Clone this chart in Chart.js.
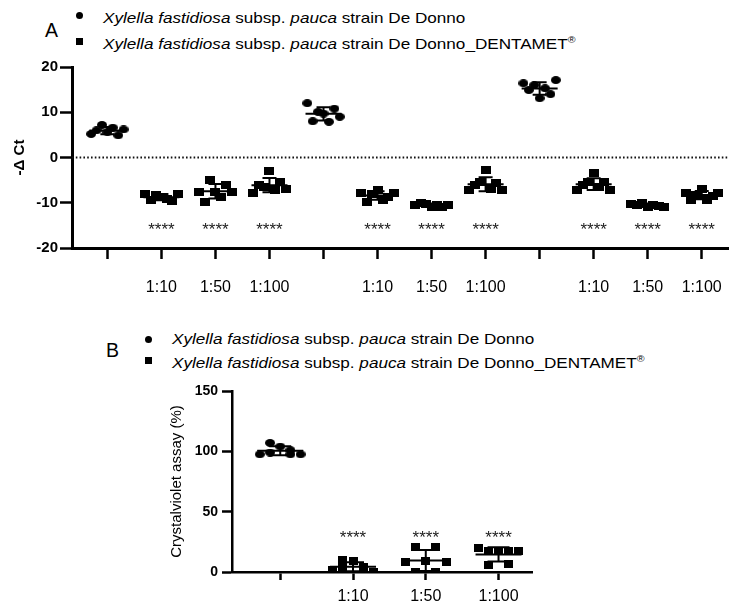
<!DOCTYPE html>
<html>
<head>
<meta charset="utf-8">
<script src="https://cdn.jsdelivr.net/npm/chart.js@4.4.1/dist/chart.umd.min.js"></script>
<style>
  body { margin: 0; width: 741px; height: 606px; background: #fff; position: relative; overflow: hidden;
         font-family: "Liberation Sans", Arial, sans-serif; color: #000; }
  .letter { position: absolute; font-size: 19.5px; line-height: 1; }
  .row { position: absolute; font-size: 14.5px; line-height: 1; white-space: nowrap;
         transform: scaleX(1.18); transform-origin: left center; }
  .row sup { font-size: 9px; vertical-align: 6px; color: #000; font-family: "Liberation Sans", "DejaVu Sans", sans-serif; }
  .dot { position: absolute; width: 7px; height: 7px; border-radius: 50%; background: #000; }
  .sq { position: absolute; width: 7px; height: 7px; background: #000; }
  canvas { position: absolute; left: 0; }
</style>
</head>
<body>
  <div class="letter" style="left:45px; top:20.5px;">A</div>
  <div class="dot" style="left:76px; top:11.5px;"></div>
  <div class="sq" style="left:76px; top:37.5px;"></div>
  <div class="row" style="left:103px; top:10.5px;"><i>Xylella fastidiosa</i> subsp. <i>pauca</i> strain De Donno</div>
  <div class="row" style="left:103px; top:35.5px;"><i>Xylella fastidiosa</i> subsp. <i>pauca</i> strain De Donno_DENTAMET<sup>&#174;&#xFE0E;</sup></div>

  <div class="letter" style="left:106px; top:340.5px;">B</div>
  <div class="dot" style="left:144.5px; top:335.5px;"></div>
  <div class="sq" style="left:144.5px; top:356.5px;"></div>
  <div class="row" style="left:172px; top:332px;"><i>Xylella fastidiosa</i> subsp. <i>pauca</i> strain De Donno</div>
  <div class="row" style="left:172px; top:355px;"><i>Xylella fastidiosa</i> subsp. <i>pauca</i> strain De Donno_DENTAMET<sup>&#174;&#xFE0E;</sup></div>

  <canvas id="chartA" width="741" height="250" style="top:55px"></canvas>
  <canvas id="chartB" width="560" height="236" style="top:370px"></canvas>

<script>
// ---- panel A: -ΔCt, three experiments (untreated, 1:10, 1:50, 1:100) ----
const xLabelsA = ['', '1:10', '1:50', '1:100', '', '1:10', '1:50', '1:100', '', '1:10', '1:50', '1:100'];
const starsA = ['', '****', '****', '****', '', '****', '****', '****', '', '****', '****', '****'];
const markerA = ['circle', 'square', 'square', 'square', 'circle', 'square', 'square', 'square', 'circle', 'square', 'square', 'square'];

const exp1Ctrl = [5.2, 6.0, 7.2, 5.6, 6.6, 4.9, 6.2];
const exp1D10 = [-8.0, -9.5, -8.3, -8.8, -9.2, -9.6, -8.0];
const exp1D50 = [-7.6, -9.8, -5.0, -7.6, -8.7, -6.0, -7.6];
const exp1D100 = [-7.8, -6.0, -6.5, -3.0, -7.2, -5.4, -6.9];
const exp2Ctrl = [12.0, 8.0, 10.1, 9.7, 7.9, 10.8, 9.0];
const exp2D10 = [-7.8, -9.8, -8.0, -7.2, -9.4, -8.7, -7.8];
const exp2D50 = [-10.5, -10.0, -10.2, -11.0, -10.4, -11.0, -10.6];
const exp2D100 = [-7.2, -6.1, -5.4, -2.8, -7.0, -5.6, -7.2];
const exp3Ctrl = [16.4, 14.9, 16.0, 13.1, 15.3, 14.0, 17.1];
const exp3D10 = [-7.2, -6.1, -5.4, -3.5, -6.5, -5.4, -7.2];
const exp3D50 = [-10.2, -10.6, -10.0, -11.0, -10.4, -10.8, -11.0];
const exp3D100 = [-7.8, -9.4, -8.3, -6.9, -9.4, -8.6, -7.8];
const groupsA = [exp1Ctrl, exp1D10, exp1D50, exp1D100, exp2Ctrl, exp2D10, exp2D50, exp2D100,
                 exp3Ctrl, exp3D10, exp3D50, exp3D100];
const yTicksA = [-20, -10, 0, 10, 20];

// ---- panel B: crystal violet assay (%) ----
const xLabelsB = ['', '1:10', '1:50', '1:100'];
const starsB = ['', '****', '****', '****'];
const markerB = ['circle', 'square', 'square', 'square'];
const cvCtrl = [97.5, 107, 99, 104, 101, 97.5, 97.5];
const cvD10 = [2, 10, 4, 9, 2, 4, 0];
const cvD50 = [8, 21, 0, 9, 21, 0, 8];
const cvD100 = [20, 17.5, 5.5, 17.5, 17.5, 6.5, 17.5];
const groupsB = [cvCtrl, cvD10, cvD50, cvD100];
const yTicksB = [0, 50, 100, 150];

// horizontal scatter of the replicate points inside a column
const jitterA = [-0.3, -0.2, -0.1, 0, 0.1, 0.2, 0.3];
const jitterB = [-0.28, -0.14, -0.14, 0, 0.14, 0.14, 0.28];

const FONT = "'Liberation Sans', Arial, sans-serif";
Chart.defaults.font.family = FONT;
Chart.defaults.color = '#000';

function ellipseImg(w, h) {
    const c = document.createElement('canvas');
    c.width = w; c.height = h;
    const g = c.getContext('2d');
    g.fillStyle = '#000';
    g.beginPath();
    g.ellipse(w / 2, h / 2, w / 2, h / 2, 0, 0, Math.PI * 2);
    g.fill();
    return c;
}
function rectImg(w, h) {
    const c = document.createElement('canvas');
    c.width = w; c.height = h;
    const g = c.getContext('2d');
    g.fillStyle = '#000';
    g.fillRect(0, 0, w, h);
    return c;
}

function mean(a) { return a.reduce((s, v) => s + v, 0) / a.length; }
function sd(a) {
    const m = mean(a);
    return Math.sqrt(a.reduce((s, v) => s + (v - m) * (v - m), 0) / (a.length - 1));
}

// mean line + SD whiskers, stars and optional dotted zero line
const summaryPlugin = {
    id: 'summary',
    beforeDatasetsDraw(chart, args, opts) {
        if (!opts.zeroLine) return;
        const { ctx, chartArea, scales: { y } } = chart;
        const py = y.getPixelForValue(0);
        ctx.save();
        ctx.strokeStyle = '#111';
        ctx.lineWidth = 2;
        ctx.setLineDash([1.6, 2.2]);
        ctx.beginPath();
        ctx.moveTo(chartArea.left, py);
        ctx.lineTo(chartArea.right, py);
        ctx.stroke();
        ctx.restore();
    },
    afterDatasetsDraw(chart, args, opts) {
        const { ctx, scales: { x, y } } = chart;
        ctx.save();
        ctx.strokeStyle = '#000';
        ctx.lineWidth = 2;
        opts.groups.forEach((vals, i) => {
            const m = mean(vals), s = sd(vals);
            const cx = x.getPixelForValue(i);
            const ym = y.getPixelForValue(m);
            const yt = y.getPixelForValue(m + s);
            const yb = y.getPixelForValue(m - s);
            ctx.beginPath();
            ctx.moveTo(cx - opts.meanHalf, ym); ctx.lineTo(cx + opts.meanHalf, ym);
            ctx.moveTo(cx, yt); ctx.lineTo(cx, yb);
            ctx.moveTo(cx - opts.capHalf, yt); ctx.lineTo(cx + opts.capHalf, yt);
            ctx.moveTo(cx - opts.capHalf, yb); ctx.lineTo(cx + opts.capHalf, yb);
            ctx.stroke();
        });
        ctx.fillStyle = '#222';
        ctx.font = '17px ' + FONT;
        ctx.textAlign = 'center';
        ctx.textBaseline = 'alphabetic';
        opts.stars.forEach((t, i) => {
            if (!t) return;
            ctx.fillText(t, x.getPixelForValue(i), y.getPixelForValue(opts.starY) + 9.5);
        });
        ctx.restore();
    }
};

function buildDatasets(groups, markers, jitter, circle, square) {
    return groups.map((vals, i) => ({
        data: vals.map((v, k) => ({ x: i + jitter[k], y: v })),
        pointStyle: markers[i] === 'circle' ? circle : square,
        pointRadius: 5,
        backgroundColor: '#000',
        borderColor: '#000'
    }));
}

function axisScales(cfg) {
    return {
        x: {
            type: 'linear', min: cfg.xMin, max: cfg.xMax,
            afterBuildTicks: s => { s.ticks = cfg.xLabels.map((_, i) => ({ value: i })); },
            afterFit: s => { s.height = cfg.xHeight; },
            ticks: {
                autoSkip: false, maxRotation: 0, padding: cfg.xPad, color: '#000',
                font: { size: 16 },
                callback: v => cfg.xLabels[v] ?? ''
            },
            grid: { drawOnChartArea: false, drawTicks: true, tickLength: cfg.xTick, tickWidth: cfg.tickW, tickColor: '#000' },
            border: { display: true, color: '#000', width: cfg.axisW }
        },
        y: {
            min: cfg.yTicks[0], max: cfg.yTicks[cfg.yTicks.length - 1],
            afterBuildTicks: s => { s.ticks = cfg.yTicks.map(v => ({ value: v })); },
            afterFit: s => { s.width = cfg.yWidth; },
            ticks: { padding: cfg.yPad, color: '#000', font: { size: cfg.yFont, weight: 'bold' } },
            grid: { drawOnChartArea: false, drawTicks: true, tickLength: cfg.yTick, tickWidth: cfg.tickW, tickColor: '#000' },
            border: { display: true, color: '#000', width: cfg.axisW },
            title: {
                display: true, text: cfg.yTitle, color: '#000',
                font: cfg.yTitleFont, padding: { top: cfg.yTitlePad, bottom: 0 }
            }
        }
    };
}

new Chart(document.getElementById('chartA'), {
    type: 'scatter',
    data: { datasets: buildDatasets(groupsA, markerA, jitterA, ellipseImg(10, 8), rectImg(10, 8)) },
    options: {
        responsive: false, animation: false,
        layout: { padding: { top: 12, right: 0, bottom: 0, left: 0 } },
        plugins: {
            legend: { display: false }, tooltip: { enabled: false },
            summary: { groups: groupsA, stars: starsA, starY: -15, meanHalf: 18, capHalf: 7, zeroLine: true }
        },
        scales: axisScales({
            xMin: -0.655, xMax: 11.5, xLabels: xLabelsA, xHeight: 57, xPad: 19, xTick: 11,
            yTicks: yTicksA, yWidth: 72, yPad: 2, yTick: 12, yFont: 15,
            yTitle: '-\u0394 Ct', yTitleFont: { size: 15, weight: 'bold' }, yTitlePad: 11,
            tickW: 2.5, axisW: 3
        })
    },
    plugins: [summaryPlugin]
});

new Chart(document.getElementById('chartB'), {
    type: 'scatter',
    data: { datasets: buildDatasets(groupsB, markerB, jitterB, ellipseImg(10, 8), rectImg(9, 8)) },
    options: {
        responsive: false, animation: false,
        layout: { padding: { top: 21, right: 28, bottom: 0, left: 0 } },
        plugins: {
            legend: { display: false }, tooltip: { enabled: false },
            summary: { groups: groupsB, stars: starsB, starY: 31.5, meanHalf: 23, capHalf: 11, zeroLine: false }
        },
        scales: axisScales({
            xMin: -0.663, xMax: 3.46, xLabels: xLabelsB, xHeight: 34, xPad: 7, xTick: 8,
            yTicks: yTicksB, yWidth: 232, yPad: 4, yTick: 10, yFont: 14,
            yTitle: 'Crystalviolet assay (%)', yTitleFont: { size: 15 }, yTitlePad: 168,
            tickW: 2.5, axisW: 2.5
        })
    },
    plugins: [summaryPlugin]
});
</script>
</body>
</html>
